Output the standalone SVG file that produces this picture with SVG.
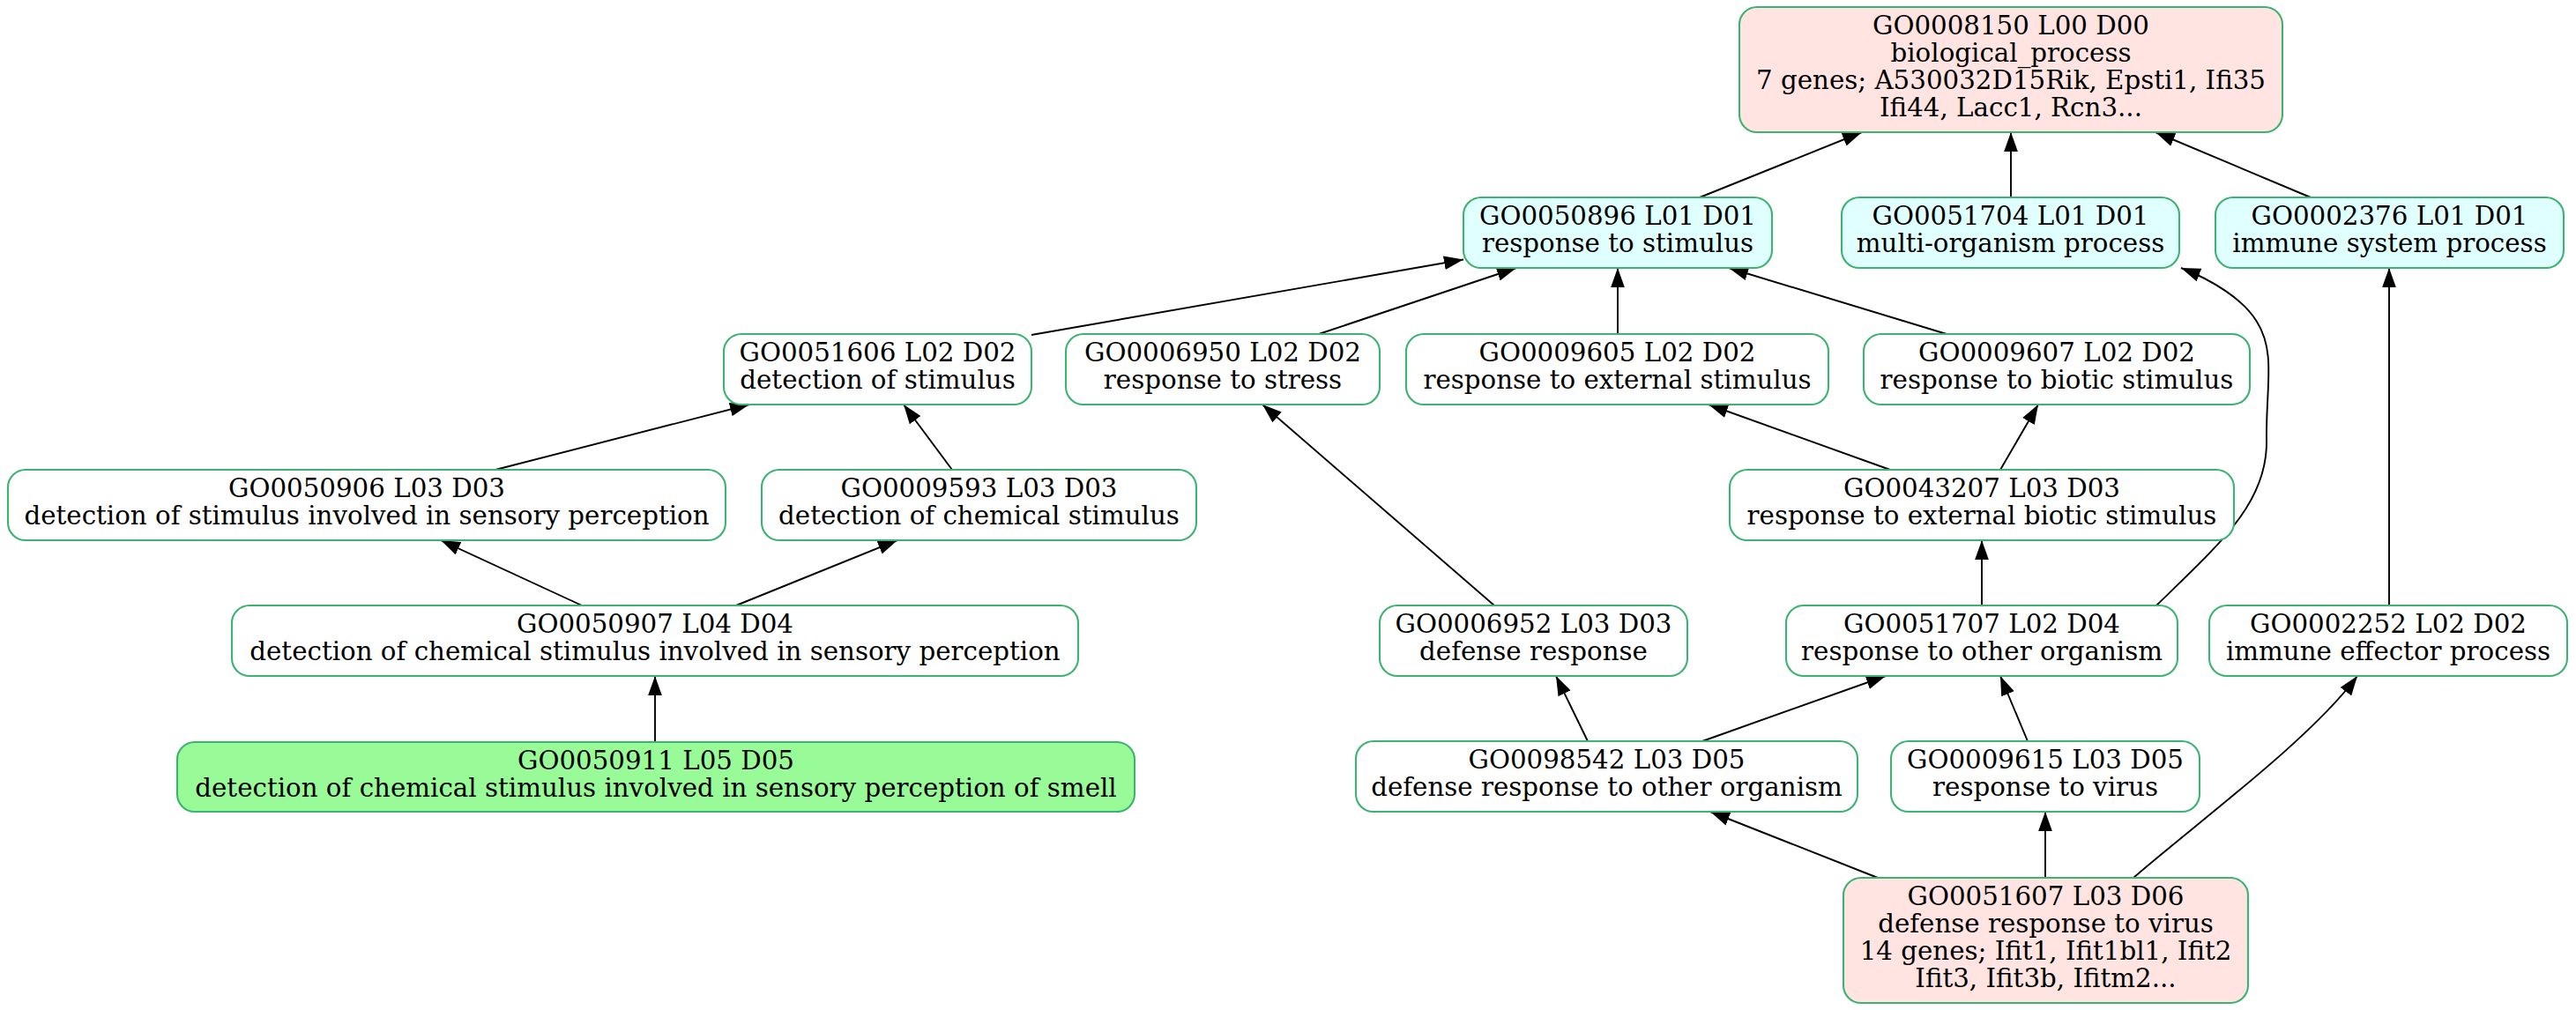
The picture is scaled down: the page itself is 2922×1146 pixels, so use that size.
<svg xmlns="http://www.w3.org/2000/svg" width="2922" height="1146" viewBox="0 0 2922 1146">
<style>
.n rect{stroke:#3CB371;stroke-width:2.1}
.w rect{fill:#FFFFFF}
.c rect{fill:#E0FFFF}
.p rect{fill:#FFE4E1}
.g rect{fill:#98FB98}
text{font-family:"DejaVu Serif","Liberation Serif",serif;font-size:29.3px;text-anchor:middle;fill:#000}
.e path{fill:none;stroke:#000;stroke-width:1.9;marker-end:url(#ah)}
</style>
<defs>
<marker id="ah" markerUnits="userSpaceOnUse" markerWidth="22" markerHeight="16" viewBox="0 0 21 15" refX="21" refY="7.5" orient="auto">
<path d="M0,0 L21,7.5 L0,15 z" fill="#000"/>
</marker>
</defs>
<rect width="2922" height="1146" fill="#fff"/>
<g id="edges" class="e">
<path d="M1928,224 L2112,150"/>
<path d="M2281,224 L2281,150"/>
<path d="M2621,224 L2445,150"/>
<path d="M1170,380 L1660,294.5"/>
<path d="M1496,379 L1720,304"/>
<path d="M1835,379 L1835,304"/>
<path d="M2208,379 L1961,304"/>
<path d="M562,533 L850,459"/>
<path d="M1080,533 L1025,459"/>
<path d="M2144,533 L1938,459"/>
<path d="M2269,533 L2312,459"/>
<path d="M660,687 L500,613"/>
<path d="M835,687 L1018,613"/>
<path d="M743,842 L743,767"/>
<path d="M1695,687 L1432,459"/>
<path d="M2248,687 L2248,613"/>
<path d="M2446,687 C2520,615 2572,570 2571,500 C2570,440 2582,400 2560,365 C2545,340 2510,318 2474,304"/>
<path d="M2710,687 L2710,304"/>
<path d="M1801,841 L1765,767"/>
<path d="M1931,841 L2139,767"/>
<path d="M2300,841 L2269,767"/>
<path d="M2130,996 L1940,921"/>
<path d="M2320,996 L2320,921"/>
<path d="M2420,996 C2490,935 2620,840 2674,767"/>
</g>
<g id="GO0008150" class="n p"><rect x="1973" y="8" width="616" height="142" rx="20"/>
<text x="2281" y="38.5">GO0008150 L00 D00</text><text x="2281" y="69.5">biological_process</text><text x="2281" y="100.5">7 genes; A530032D15Rik, Epsti1, Ifi35</text><text x="2281" y="131.5">Ifi44, Lacc1, Rcn3...</text></g>
<g id="GO0050896" class="n c"><rect x="1660" y="224" width="350" height="80" rx="20"/>
<text x="1835" y="255">GO0050896 L01 D01</text><text x="1835" y="286">response to stimulus</text></g>
<g id="GO0051704" class="n c"><rect x="2089" y="224" width="383" height="80" rx="20"/>
<text x="2280.5" y="255">GO0051704 L01 D01</text><text x="2280.5" y="286">multi-organism process</text></g>
<g id="GO0002376" class="n c"><rect x="2513" y="224" width="395" height="80" rx="20"/>
<text x="2710.5" y="255">GO0002376 L01 D01</text><text x="2710.5" y="286">immune system process</text></g>
<g id="GO0051606" class="n w"><rect x="821" y="379" width="349" height="80" rx="20"/>
<text x="995.5" y="410">GO0051606 L02 D02</text><text x="995.5" y="441">detection of stimulus</text></g>
<g id="GO0006950" class="n w"><rect x="1209" y="379" width="356" height="80" rx="20"/>
<text x="1387" y="410">GO0006950 L02 D02</text><text x="1387" y="441">response to stress</text></g>
<g id="GO0009605" class="n w"><rect x="1595" y="379" width="479" height="80" rx="20"/>
<text x="1834.5" y="410">GO0009605 L02 D02</text><text x="1834.5" y="441">response to external stimulus</text></g>
<g id="GO0009607" class="n w"><rect x="2114" y="379" width="438" height="80" rx="20"/>
<text x="2333" y="410">GO0009607 L02 D02</text><text x="2333" y="441">response to biotic stimulus</text></g>
<g id="GO0050906" class="n w"><rect x="9" y="533" width="814" height="80" rx="20"/>
<text x="416" y="564">GO0050906 L03 D03</text><text x="416" y="595">detection of stimulus involved in sensory perception</text></g>
<g id="GO0009593" class="n w"><rect x="864" y="533" width="493" height="80" rx="20"/>
<text x="1110.5" y="564">GO0009593 L03 D03</text><text x="1110.5" y="595">detection of chemical stimulus</text></g>
<g id="GO0043207" class="n w"><rect x="1962" y="533" width="572" height="80" rx="20"/>
<text x="2248" y="564">GO0043207 L03 D03</text><text x="2248" y="595">response to external biotic stimulus</text></g>
<g id="GO0050907" class="n w"><rect x="263" y="687" width="960" height="80" rx="20"/>
<text x="743" y="718">GO0050907 L04 D04</text><text x="743" y="749">detection of chemical stimulus involved in sensory perception</text></g>
<g id="GO0006952" class="n w"><rect x="1565" y="687" width="349" height="80" rx="20"/>
<text x="1739.5" y="718">GO0006952 L03 D03</text><text x="1739.5" y="749">defense response</text></g>
<g id="GO0051707" class="n w"><rect x="2026" y="687" width="444" height="80" rx="20"/>
<text x="2248" y="718">GO0051707 L02 D04</text><text x="2248" y="749">response to other organism</text></g>
<g id="GO0002252" class="n w"><rect x="2506" y="687" width="406" height="80" rx="20"/>
<text x="2709" y="718">GO0002252 L02 D02</text><text x="2709" y="749">immune effector process</text></g>
<g id="GO0050911" class="n g"><rect x="201" y="842" width="1086" height="79" rx="20"/>
<text x="744" y="872.5">GO0050911 L05 D05</text><text x="744" y="903.5">detection of chemical stimulus involved in sensory perception of smell</text></g>
<g id="GO0098542" class="n w"><rect x="1538" y="841" width="569" height="80" rx="20"/>
<text x="1822.5" y="872">GO0098542 L03 D05</text><text x="1822.5" y="903">defense response to other organism</text></g>
<g id="GO0009615" class="n w"><rect x="2145" y="841" width="350" height="80" rx="20"/>
<text x="2320" y="872">GO0009615 L03 D05</text><text x="2320" y="903">response to virus</text></g>
<g id="GO0051607" class="n p"><rect x="2091" y="996" width="459" height="142" rx="20"/>
<text x="2320.5" y="1026.5">GO0051607 L03 D06</text><text x="2320.5" y="1057.5">defense response to virus</text><text x="2320.5" y="1088.5">14 genes; Ifit1, Ifit1bl1, Ifit2</text><text x="2320.5" y="1119.5">Ifit3, Ifit3b, Ifitm2...</text></g>
</svg>
